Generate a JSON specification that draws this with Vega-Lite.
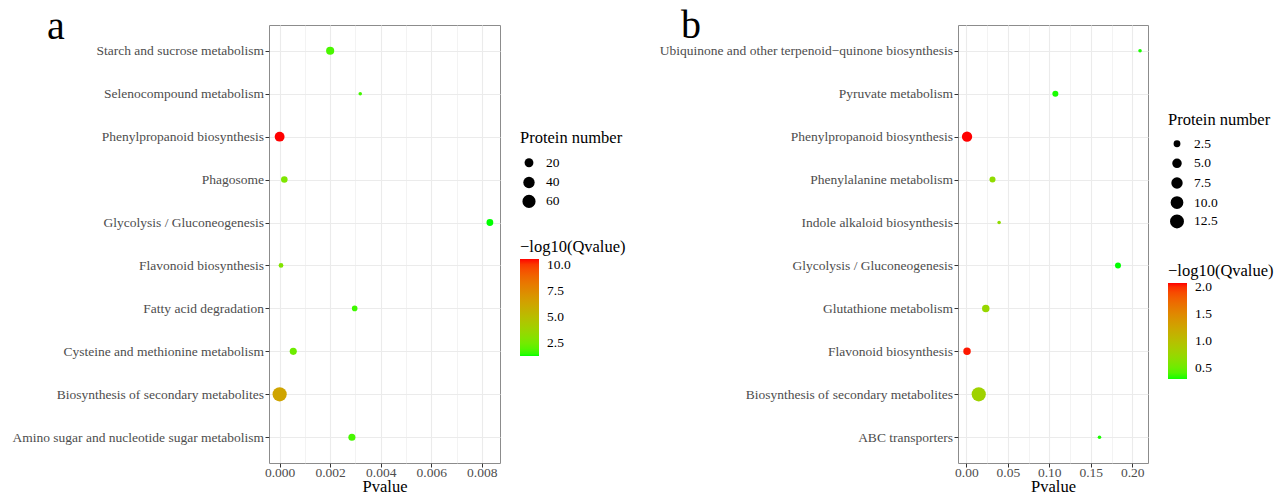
{
  "$schema": "https://vega.github.io/schema/vega-lite/v6.json",
  "background": "white",
  "padding": {"left": 11, "top": 5, "right": 0, "bottom": 0},
  "datasets": {
    "a": [
      {"pathway": "Starch and sucrose metabolism", "pvalue": 0.00200, "count": 16, "qlog": 1.77},
      {"pathway": "Selenocompound metabolism", "pvalue": 0.00319, "count": 2, "qlog": 1.7},
      {"pathway": "Phenylpropanoid biosynthesis", "pvalue": 0.0000001, "count": 27, "qlog": 10.53},
      {"pathway": "Phagosome", "pvalue": 0.000186, "count": 9, "qlog": 2.8},
      {"pathway": "Glycolysis / Gluconeogenesis", "pvalue": 0.00832, "count": 10, "qlog": 1.31},
      {"pathway": "Flavonoid biosynthesis", "pvalue": 0.000055, "count": 4, "qlog": 2.88},
      {"pathway": "Fatty acid degradation", "pvalue": 0.00297, "count": 6, "qlog": 1.65},
      {"pathway": "Cysteine and methionine metabolism", "pvalue": 0.00054, "count": 11, "qlog": 2.4},
      {"pathway": "Biosynthesis of secondary metabolites", "pvalue": 0.000001, "count": 74, "qlog": 6.3},
      {"pathway": "Amino sugar and nucleotide sugar metabolism", "pvalue": 0.00286, "count": 11, "qlog": 1.75}
    ],
    "b": [
      {"pathway": "Ubiquinone and other terpenoid−quinone biosynthesis", "pvalue": 0.2094, "count": 1, "qlog": 0.30},
      {"pathway": "Pyruvate metabolism", "pvalue": 0.1073, "count": 2, "qlog": 0.30},
      {"pathway": "Phenylpropanoid biosynthesis", "pvalue": 0.0008, "count": 6, "qlog": 2.075},
      {"pathway": "Phenylalanine metabolism", "pvalue": 0.0315, "count": 2, "qlog": 0.68},
      {"pathway": "Indole alkaloid biosynthesis", "pvalue": 0.0395, "count": 1, "qlog": 0.68},
      {"pathway": "Glycolysis / Gluconeogenesis", "pvalue": 0.1828, "count": 2, "qlog": 0.287},
      {"pathway": "Glutathione metabolism", "pvalue": 0.0234, "count": 3, "qlog": 0.73},
      {"pathway": "Flavonoid biosynthesis", "pvalue": 0.0008, "count": 3, "qlog": 2.05},
      {"pathway": "Biosynthesis of secondary metabolites", "pvalue": 0.0149, "count": 13, "qlog": 0.79},
      {"pathway": "ABC transporters", "pvalue": 0.1605, "count": 1, "qlog": 0.30}
    ]
  },
  "hconcat": [
    {
      "data": {"name": "a"},
      "width": 231,
      "height": 438,
      "title": {"text": "a", "anchor": "start", "frame": "group", "orient": "top", "offset": -41, "baseline": "alphabetic", "dx": -222, "dy": 13},
      "mark": {"type": "point", "filled": true, "opacity": 1, "strokeWidth": 0},
      "encoding": {
        "x": {
          "field": "pvalue", "type": "quantitative",
          "scale": {"domain": [-0.00042, 0.00872], "nice": false, "zero": false},
          "axis": {
            "title": "Pvalue",
            "values": [0, 0.001, 0.002, 0.003, 0.004, 0.005, 0.006, 0.007, 0.008],
            "format": ".3f",
            "labelPadding": -2,
            "titlePadding": 0,
            "labelExpr": "round(datum.value*1000) % 2 == 1 ? '' : datum.label",
            "labelOverlap": false,
            "tickOpacity": {"condition": {"test": "round(datum.value*1000) % 2 == 1", "value": 0}, "value": 1},
            "gridWidth": {"condition": {"test": "round(datum.value*1000) % 2 == 1", "value": 0.6}, "value": 1.1}
          }
        },
        "y": {
          "field": "pathway", "type": "nominal",
          "sort": ["Starch and sucrose metabolism", "Selenocompound metabolism", "Phenylpropanoid biosynthesis", "Phagosome", "Glycolysis / Gluconeogenesis", "Flavonoid biosynthesis", "Fatty acid degradation", "Cysteine and methionine metabolism", "Biosynthesis of secondary metabolites", "Amino sugar and nucleotide sugar metabolism"],
          "scale": {"type": "point", "padding": 0.6},
          "axis": {"title": null, "labelLimit": 400}
        },
        "size": {
          "field": "count", "type": "quantitative",
          "scale": {"type": "pow", "exponent": 0.7, "domain": [2, 74], "range": [12.6, 201]},
          "legend": {"title": "Protein number", "orient": "none", "legendX": 251, "legendY": 104.5, "values": [20, 40, 60], "symbolFillColor": "black", "symbolStrokeWidth": 0, "symbolOpacity": 1, "symbolType": "circle", "labelOffset": 10, "rowPadding": 4.7, "titlePadding": 10, "symbolOffset": 2}
        },
        "color": {
          "field": "qlog", "type": "quantitative",
          "scale": {"domain": [1.31, 10.53], "range": ["#00FF00", "#FF0000"], "interpolate": "lab"},
          "legend": {"title": "−log10(Qvalue)", "orient": "none", "legendX": 251, "legendY": 213.5, "values": [2.5, 5, 7.5, 10], "format": ".1f", "gradientLength": 97, "gradientThickness": 19, "gradientStrokeWidth": 0, "labelOffset": 8, "titlePadding": 4}
        }
      }
    },
    {
      "data": {"name": "b"},
      "width": 190,
      "height": 438,
      "title": {"text": "b", "anchor": "start", "frame": "group", "orient": "top", "offset": -41, "baseline": "alphabetic", "dx": -277, "dy": 12},
      "mark": {"type": "point", "filled": true, "opacity": 1, "strokeWidth": 0},
      "encoding": {
        "x": {
          "field": "pvalue", "type": "quantitative",
          "scale": {"domain": [-0.0101, 0.219], "nice": false, "zero": false},
          "axis": {
            "title": "Pvalue",
            "values": [0, 0.025, 0.05, 0.075, 0.1, 0.125, 0.15, 0.175, 0.2],
            "format": ".2f",
            "labelPadding": -2,
            "titlePadding": 0,
            "labelExpr": "round(datum.value*40) % 2 == 1 ? '' : datum.label",
            "labelOverlap": false,
            "tickOpacity": {"condition": {"test": "round(datum.value*40) % 2 == 1", "value": 0}, "value": 1},
            "gridWidth": {"condition": {"test": "round(datum.value*40) % 2 == 1", "value": 0.6}, "value": 1.1}
          }
        },
        "y": {
          "field": "pathway", "type": "nominal",
          "sort": ["Ubiquinone and other terpenoid−quinone biosynthesis", "Pyruvate metabolism", "Phenylpropanoid biosynthesis", "Phenylalanine metabolism", "Indole alkaloid biosynthesis", "Glycolysis / Gluconeogenesis", "Glutathione metabolism", "Flavonoid biosynthesis", "Biosynthesis of secondary metabolites", "ABC transporters"],
          "scale": {"type": "point", "padding": 0.6},
          "axis": {"title": null, "labelLimit": 400}
        },
        "size": {
          "field": "count", "type": "quantitative",
          "scale": {"type": "pow", "exponent": 0.7, "domain": [1, 13], "range": [12.6, 201]},
          "legend": {"title": "Protein number", "orient": "none", "legendX": 210, "legendY": 86.5, "values": [2.5, 5, 7.5, 10, 12.5], "format": ".1f", "symbolFillColor": "black", "symbolStrokeWidth": 0, "symbolOpacity": 1, "symbolType": "circle", "labelOffset": 10, "rowPadding": 4.6, "titlePadding": 9, "symbolOffset": 2}
        },
        "color": {
          "field": "qlog", "type": "quantitative",
          "scale": {"domain": [0.287, 2.075], "range": ["#00FF00", "#FF0000"], "interpolate": "lab"},
          "legend": {"title": "−log10(Qvalue)", "orient": "none", "legendX": 210, "legendY": 237.5, "values": [0.5, 1, 1.5, 2], "format": ".1f", "gradientLength": 96, "gradientThickness": 19, "gradientStrokeWidth": 0, "labelOffset": 8, "titlePadding": 4}
        }
      }
    }
  ],
  "spacing": 31,
  "resolve": {
    "scale": {"x": "independent", "y": "independent", "size": "independent", "color": "independent"},
    "legend": {"size": "independent", "color": "independent"}
  },
  "config": {
    "font": "Liberation Serif",
    "view": {"stroke": "#8c8c8c", "strokeWidth": 1},
    "axis": {
      "labelFont": "Liberation Serif", "labelFontSize": 13.5, "labelColor": "#4D4D4D",
      "tickColor": "#333333", "tickSize": 4, "labelPadding": 1.5, "domain": false,
      "grid": true, "gridColor": "#EBEBEB",
      "titleFont": "Liberation Serif", "titleFontSize": 16.5, "titleFontWeight": "normal", "titleColor": "black", "titlePadding": 3
    },
    "legend": {
      "titleFont": "Liberation Serif", "titleFontSize": 16.5, "titleFontWeight": "normal", "titleColor": "black",
      "labelFont": "Liberation Serif", "labelFontSize": 13.5, "labelColor": "black", "padding": 0
    },
    "title": {"font": "Liberation Serif", "fontSize": 40, "fontWeight": "normal", "color": "black"}
  }
}
